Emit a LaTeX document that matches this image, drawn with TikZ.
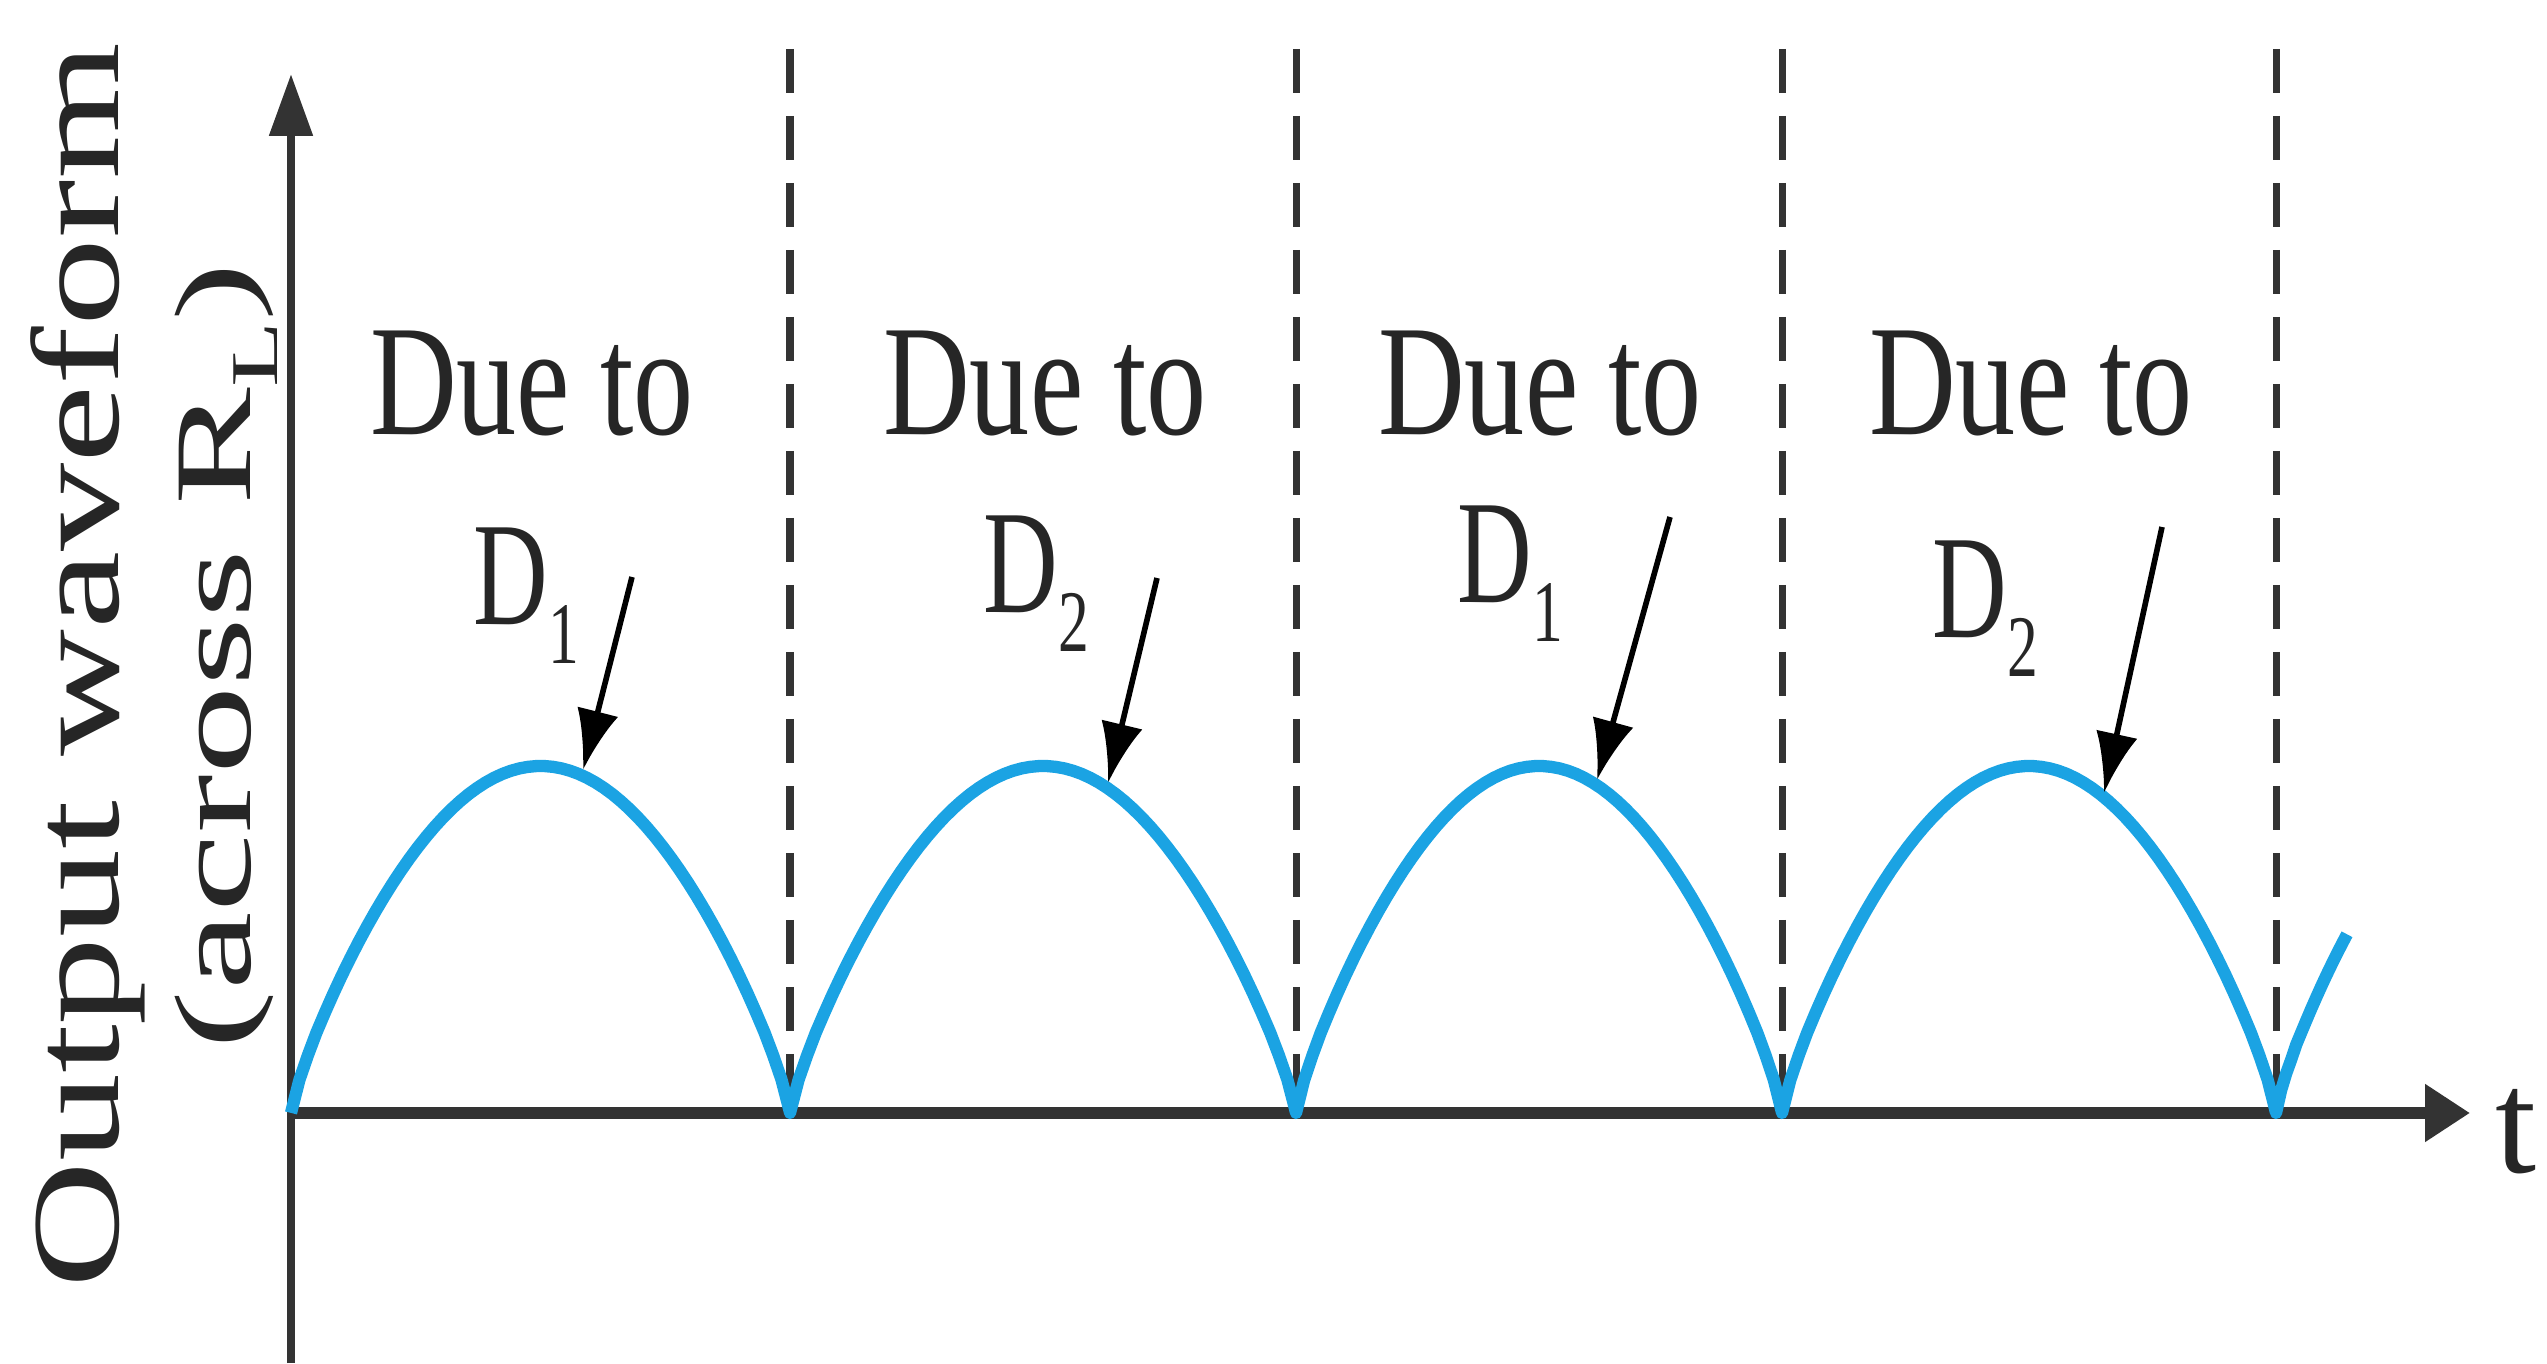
\documentclass[tikz,border=0pt]{standalone}
\usepackage{fontspec}
\setmainfont{Liberation Serif}
\usetikzlibrary{arrows.meta,positioning,calc}
\definecolor{wavecol}{HTML}{1BA3E3}
\definecolor{axiscol}{HTML}{333333}
\definecolor{inkcol}{HTML}{262626}

\begin{document}
\begin{tikzpicture}[
    wave/.style={draw=wavecol, line width=3.5pt, line join=round},
    axisline/.style={draw=axiscol, line width=2.4pt},
    divider/.style={draw=axiscol, line width=2pt, dash pattern=on 0.44cm off 0.23cm},
    pointer/.style={draw=black, line width=1.6pt, -{Latex[length=0.6cm,width=0.42cm]}},
    dueto/.style={text=inkcol, font=\fontsize{45}{45}\selectfont, xscale=0.76,
                  inner sep=0pt, anchor=base},
    diode/.style={text=inkcol, font=\fontsize{42}{42}\selectfont, xscale=0.70,
                  inner sep=0pt, anchor=base west},
    ylabel/.style={text=inkcol, rotate=90, anchor=base, inner sep=0pt},
]
\useasboundingbox (0,0) rectangle (25.47,13.63);

% axes
\coordinate (O) at (2.91,2.50);
\coordinate (ybot) at (2.91,0);
\coordinate (ytop) at (2.91,12.89);
\coordinate (xend) at (24.70,2.50);
\draw[axisline,-{Triangle[length=0.62cm,width=0.42cm]}] (ybot) -- (ytop);
\draw[axisline,line width=3.2pt,-{Triangle[length=0.45cm,width=0.55cm]}] (O) -- (xend);

% half periods
\foreach \xx in {7.90,12.96,17.82,22.76}
  \draw[divider] (\xx,13.14) -- (\xx,2.50);

% rectified output
\draw[wave]
  plot[domain=2.91:7.90,samples=60] (\x,{2.5+3.47*(abs(sin(180*(\x-2.91)/4.99))+0.00001)^0.8})
  -- plot[domain=7.90:12.96,samples=60] (\x,{2.5+3.47*(abs(sin(180*(\x-7.90)/5.06))+0.00001)^0.8})
  -- plot[domain=12.96:17.82,samples=60] (\x,{2.5+3.47*(abs(sin(180*(\x-12.96)/4.86))+0.00001)^0.8})
  -- plot[domain=17.82:22.76,samples=60] (\x,{2.5+3.47*(abs(sin(180*(\x-17.82)/4.94))+0.00001)^0.8})
  -- plot[domain=22.76:23.47,samples=15] (\x,{2.5+3.47*(abs(sin(180*(\x-22.76)/4.94))+0.00001)^0.8});

% labels
\node[dueto] (due1) at (5.32,9.28) {Due to};
\node[dueto] (due2) at (10.45,9.28) {Due to};
\node[dueto] (due3) at (15.40,9.28) {Due to};
\node[dueto] (due4) at (20.31,9.28) {Due to};

\node[diode] (d1) at (4.73,7.38) {D\raisebox{-0.39cm}{\fontsize{25}{25}\selectfont 1}};
\node[diode] (d2) at (9.83,7.50) {D\raisebox{-0.39cm}{\fontsize{25}{25}\selectfont 2}};
\node[diode] (d3) at (14.57,7.60) {D\raisebox{-0.39cm}{\fontsize{25}{25}\selectfont 1}};
\node[diode] (d4) at (19.32,7.25) {D\raisebox{-0.39cm}{\fontsize{25}{25}\selectfont 2}};

\coordinate (a1) at (6.32,7.86);  \coordinate (p1) at (5.83,5.93);
\coordinate (a2) at (11.57,7.85); \coordinate (p2) at (11.08,5.80);
\coordinate (a3) at (16.70,8.46); \coordinate (p3) at (15.97,5.83);
\coordinate (a4) at (21.62,8.36); \coordinate (p4) at (21.04,5.70);
\draw[pointer] (a1) -- (p1);
\draw[pointer] (a2) -- (p2);
\draw[pointer] (a3) -- (p3);
\draw[pointer] (a4) -- (p4);

\node[ylabel, xscale=1.41, font=\fontsize{35.5}{35.5}\selectfont] (ylab1) at (1.18,6.97)
  {Output waveform};
\node[ylabel, xscale=1.62, font=\fontsize{31}{31}\selectfont] (ylab2) at (2.50,7.07)
  {(across R\raisebox{-0.25em}{\fontsize{19}{19}\selectfont L})};

\node[text=inkcol, font=\fontsize{42}{42}\selectfont, anchor=base west, inner sep=0pt]
  (tlab) at (24.95,1.90) {t};

\end{tikzpicture}
\end{document}
